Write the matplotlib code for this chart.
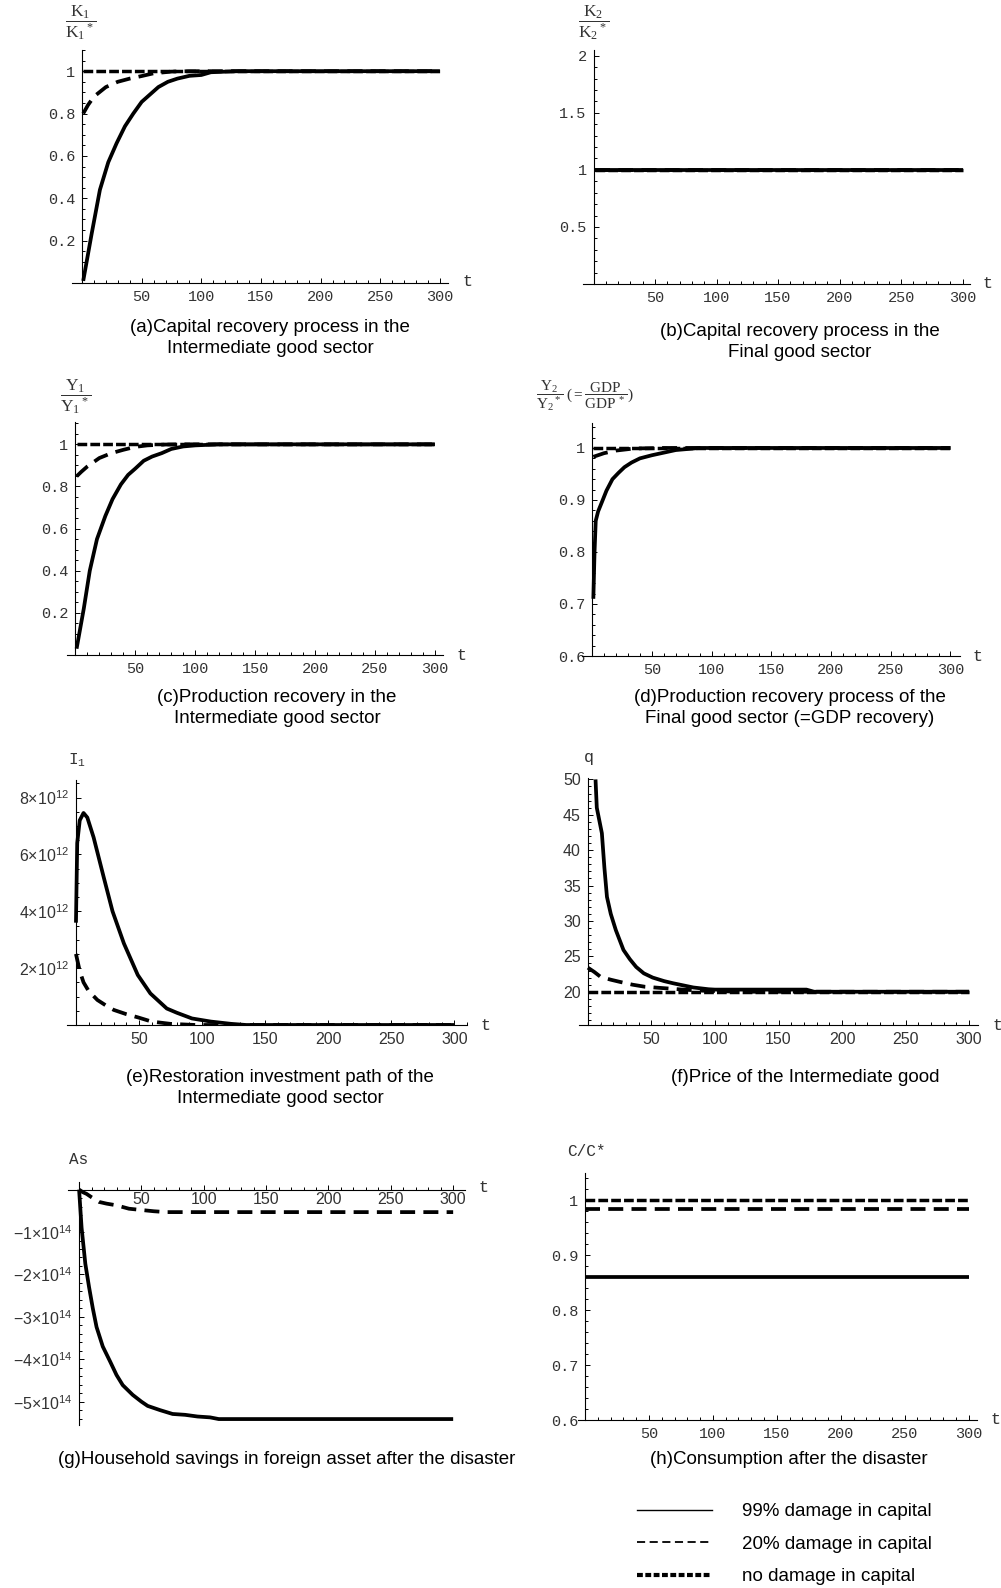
import matplotlib
matplotlib.use('Agg')
import matplotlib.pyplot as plt
from matplotlib.ticker import MultipleLocator
from matplotlib.lines import Line2D

plt.rcParams['mathtext.fontset'] = 'custom'
plt.rcParams['mathtext.rm'] = 'Liberation Serif'
plt.rcParams['mathtext.it'] = 'Liberation Serif:italic'
plt.rcParams['mathtext.sf'] = 'Liberation Sans'

W, H = 1001, 1588

# ---- data (t = periods after the disaster) ----
# (a) K1/K1*
a_t_99 = [1, 8, 15, 22, 29, 36, 43, 50, 57, 64, 72, 80, 90, 100, 108, 130, 300]
a_y_99 = [0.01, 0.23, 0.44, 0.57, 0.66, 0.74, 0.80, 0.855, 0.89, 0.925, 0.95, 0.965, 0.978, 0.982, 0.995, 1.0, 1.0]
a_t_20 = [1, 5, 10, 20, 30, 40, 50, 60, 75, 90, 300]
a_y_20 = [0.80, 0.84, 0.88, 0.925, 0.95, 0.965, 0.977, 0.99, 0.998, 1.0, 1.0]
a_t_0 = [1, 300]
a_y_0 = [1.0, 1.0]

# (b) K2/K2*
b_t = [1, 300]
b_y = [1.0, 1.0]

# (c) Y1/Y1*
c_t_99 = [1, 7, 12, 18, 25, 31, 38, 44, 50, 57, 64, 72, 80, 90, 100, 120, 300]
c_y_99 = [0.03, 0.22, 0.40, 0.55, 0.66, 0.74, 0.81, 0.855, 0.885, 0.922, 0.942, 0.958, 0.978, 0.99, 0.995, 1.0, 1.0]
c_t_20 = [1, 5, 10, 20, 30, 40, 50, 60, 75, 90, 300]
c_y_20 = [0.848, 0.87, 0.895, 0.935, 0.958, 0.974, 0.988, 0.995, 0.999, 1.0, 1.0]
c_t_0 = [1, 300]
c_y_0 = [1.0, 1.0]

# (d) Y2/Y2* (= GDP/GDP*)
d_t_99 = [1, 2, 3, 5, 8, 12, 17, 22, 27, 33, 40, 50, 60, 70, 90, 300]
d_y_99 = [0.71, 0.80, 0.86, 0.878, 0.895, 0.918, 0.94, 0.952, 0.963, 0.972, 0.98, 0.986, 0.991, 0.996, 1.0, 1.0]
d_t_20 = [1, 10, 20, 35, 60, 300]
d_y_20 = [0.983, 0.99, 0.995, 0.999, 1.0, 1.0]
d_t_0 = [1, 300]
d_y_0 = [1.0, 1.0]

# (e) I1, restoration investment
e_t_99 = [0, 1, 3, 6, 9, 14, 22, 29, 38, 49, 59, 72, 80, 92, 107, 123, 135, 300]
e_y_99 = [3.6e12, 6.4e12, 7.2e12, 7.46e12, 7.3e12, 6.6e12, 5.2e12, 4.0e12, 2.87e12, 1.76e12, 1.11e12,
          0.58e12, 0.43e12, 0.23e12, 0.12e12, 0.04e12, 0.0, 0.0]
e_t_20 = [0, 3, 6, 10, 17, 24, 30, 40, 49, 60, 75, 95, 300]
e_y_20 = [2.5e12, 1.9e12, 1.5e12, 1.2e12, 0.88e12, 0.68e12, 0.53e12, 0.38e12, 0.27e12, 0.12e12, 0.04e12, 0.0, 0.0]

# (f) q, price of the intermediate good
f_t_99 = [6, 7, 11, 13, 15, 18, 22, 28, 33, 38, 44, 51, 60, 67, 75, 83, 95, 100, 172, 178, 300]
f_y_99 = [50, 46, 42.4, 37.5, 33.4, 31, 28.7, 25.9, 24.6, 23.5, 22.6, 22.0, 21.5, 21.2, 20.9, 20.6,
          20.35, 20.3, 20.3, 20.0, 20.0]
f_t_20 = [0, 5, 10, 18, 25, 35, 45, 60, 75, 90, 120, 300]
f_y_20 = [23.4, 22.8, 22.1, 21.7, 21.4, 21.0, 20.7, 20.5, 20.3, 20.15, 20.0, 20.0]
f_t_0 = [0, 300]
f_y_0 = [20.0, 20.0]

# (g) As, household foreign assets
g_t_99 = [0, 2, 5, 8, 11, 14, 19, 25, 30, 35, 43, 50, 55, 65, 75, 85, 95, 105, 112, 300]
g_y_99 = [0, -0.9e14, -1.75e14, -2.3e14, -2.8e14, -3.24e14, -3.7e14, -4.06e14, -4.37e14, -4.61e14,
          -4.84e14, -5.0e14, -5.10e14, -5.2e14, -5.29e14, -5.31e14, -5.35e14, -5.37e14, -5.41e14, -5.41e14]
g_t_20 = [0, 3, 6, 10, 16, 22, 30, 40, 50, 60, 70, 300]
g_y_20 = [0, -0.06e14, -0.1e14, -0.18e14, -0.29e14, -0.33e14, -0.37e14, -0.45e14, -0.48e14, -0.51e14,
          -0.53e14, -0.53e14]

# (h) C/C*
h_t = [0, 300]
h_y_99 = [0.86, 0.86]
h_y_20 = [0.985, 0.985]
h_y_0 = [1.0, 1.0]

# tick labels
ticks_a = [0.2, 0.4, 0.6, 0.8, 1.0]
labels_a = ['0.2', '0.4', '0.6', '0.8', '1']
ticks_b = [0.5, 1.0, 1.5, 2.0]
labels_b = ['0.5', '1', '1.5', '2']
ticks_d = [0.6, 0.7, 0.8, 0.9, 1.0]
labels_d = ['0.6', '0.7', '0.8', '0.9', '1']
ticks_e = [2e12, 4e12, 6e12, 8e12]
labels_e = [r'$\mathsf{%d{\times}10^{12}}$' % v for v in (2, 4, 6, 8)]
ticks_f = [20, 25, 30, 35, 40, 45, 50]
labels_f = ['20', '25', '30', '35', '40', '45', '50']
ticks_g = [-5e14, -4e14, -3e14, -2e14, -1e14]
labels_g = [r'$\mathsf{-%d{\times}10^{14}}$' % v for v in (5, 4, 3, 2, 1)]
xticks = [50, 100, 150, 200, 250, 300]
xlabels = ['50', '100', '150', '200', '250', '300']

legend_labels = ['99% damage in capital', '20% damage in capital', 'no damage in capital']

# line styles
HEAVY = dict(color='black', lw=2.7, ls='-', solid_capstyle='butt')
MILD = dict(color='black', lw=2.7, ls=(0, (4.0, 2.2)), dash_capstyle='butt')
NONE = dict(color='black', lw=2.5, ls=(0, (2.8, 0.9)), dash_capstyle='butt')

MONO = 'Liberation Mono'
SANS = 'Liberation Sans'
TICKCOL = '#333333'

fig = plt.figure(figsize=(W / 100, H / 100), dpi=100)


def px(x, y):
    return x / W, 1 - y / H


def panel(x0, x1, y0, y1, xlim, ylim, yticks, ylabels, yminor,
          xfont=MONO, yfont=MONO, xsize=11, ysize=11, xspine=None):
    ax = fig.add_axes([x0 / W, 1 - y1 / H, (x1 - x0) / W, (y1 - y0) / H])
    ax.set_xlim(*xlim)
    ax.set_ylim(*ylim)
    for s in ('top', 'right'):
        ax.spines[s].set_visible(False)
    ax.spines['left'].set_position(('data', 0))
    if xspine is not None:
        ax.spines['bottom'].set_position(('data', xspine))
    for s in ('left', 'bottom'):
        ax.spines[s].set_linewidth(0.8)
    ax.set_xticks(xticks, labels=xlabels)
    ax.set_yticks(yticks, labels=ylabels)
    ax.xaxis.set_minor_locator(MultipleLocator(10))
    ax.yaxis.set_minor_locator(MultipleLocator(yminor))
    ax.tick_params(which='both', direction='in', width=0.7, colors='black',
                   labelcolor=TICKCOL)
    ax.tick_params(which='major', length=3.5)
    ax.tick_params(which='minor', length=2)
    ax.tick_params(axis='x', labelsize=xsize, labelfontfamily=xfont, pad=5)
    ax.tick_params(axis='y', labelsize=ysize, labelfontfamily=yfont, pad=5)
    ax.set_facecolor('none')
    return ax


def axis_text(x, y, s, size=11, family=MONO, ha='center'):
    fig.text(*px(x, y), s, ha=ha, va='center', fontsize=size, family=family, color=TICKCOL)


def caption(x, y, s):
    fig.text(*px(x, y), s, ha='center', va='center', fontsize=13.5, family=SANS,
             linespacing=1.35, color='black')


# (a)
ax = panel(72, 448, 50, 283, (-8.4, 306.8), (0, 1.1), ticks_a, labels_a, 0.05)
ax.plot(a_t_0, a_y_0, **NONE)
ax.plot(a_t_20, a_y_20, **MILD)
ax.plot(a_t_99, a_y_99, **HEAVY)
axis_text(467, 282, 't', 12)
axis_text(81, 23, r'$\dfrac{\mathrm{K}_1}{\mathrm{K}_1{}^*}$', 12.5)
caption(270, 338, '(a)Capital recovery process in the\nIntermediate good sector')

# (b)
ax = panel(583, 970, 50, 284, (-8.6, 306), (0, 2.05), ticks_b, labels_b, 0.1)
ax.plot(b_t, b_y, **NONE)
ax.plot(b_t, b_y, **MILD)
ax.plot(b_t, b_y, **HEAVY)
axis_text(988, 283, 't', 12)
axis_text(594, 23, r'$\dfrac{\mathrm{K}_2}{\mathrm{K}_2{}^*}$', 12.5)
caption(800, 342, '(b)Capital recovery process in the\nFinal good sector')

# (c)
ax = panel(67, 443, 422, 655, (-7, 306.7), (0, 1.106), ticks_a, labels_a, 0.05)
ax.plot(c_t_0, c_y_0, **NONE)
ax.plot(c_t_20, c_y_20, **MILD)
ax.plot(c_t_99, c_y_99, **HEAVY)
axis_text(462, 655, 't', 12)
axis_text(76, 397, r'$\dfrac{\mathrm{Y}_1}{\mathrm{Y}_1{}^*}$', 12.5)
caption(277, 708, '(c)Production recovery in the\nIntermediate good sector')

# (d)
ax = panel(582, 960, 423, 656, (-8.5, 308), (0.6, 1.048), ticks_d, labels_d, 0.02)
ax.plot(d_t_0, d_y_0, **NONE)
ax.plot(d_t_20, d_y_20, **MILD)
ax.plot(d_t_99, d_y_99, **HEAVY)
axis_text(977, 656, 't', 12)
axis_text(536, 396, r'$\dfrac{\mathrm{Y}_2}{\mathrm{Y}_2{}^*}\;(=\dfrac{\mathrm{GDP}}{\mathrm{GDP}^{\,*}})$',
          11, ha='left')
caption(790, 708, '(d)Production recovery process of the\nFinal good sector (=GDP recovery)')

# (e)
ax = panel(67, 467, 780, 1025, (-7.1, 310), (0, 8.62e12), ticks_e, labels_e, 0.5e12,
           xfont=SANS, yfont=SANS, xsize=11.5, ysize=11.5)
ax.plot(e_t_20, e_y_20, **MILD)
ax.plot(e_t_99, e_y_99, **HEAVY)
axis_text(485, 1025, 't', 12)
axis_text(77, 760, r'I$_\mathregular{1}$', 11.5)
caption(280, 1088, '(e)Restoration investment path of the\nIntermediate good sector')

# (f)
ax = panel(579, 978, 778, 1025, (-7, 307), (15.3, 50.2), ticks_f, labels_f, 1,
           xfont=SANS, yfont=SANS, xsize=11.5, ysize=11.5)
ax.plot(f_t_0, f_y_0, **NONE)
ax.plot(f_t_20, f_y_20, **MILD)
ax.plot(f_t_99, f_y_99, **HEAVY)
axis_text(997, 1025, 't', 12)
axis_text(589, 758, 'q', 12)
caption(805, 1077, '(f)Price of the Intermediate good')

# (g)
ax = panel(68, 465, 1182, 1425, (-8.9, 309.5), (-5.55e14, 0.18e14), ticks_g, labels_g, 0.2e14,
           xfont=SANS, yfont=SANS, xsize=11.5, ysize=11.5, xspine=0)
ax.tick_params(axis='x', pad=2)
ax.plot(g_t_20, g_y_20, **MILD)
ax.plot(g_t_99, g_y_99, **HEAVY)
axis_text(483, 1188, 't', 12)
axis_text(79, 1160, 'As', 11.5)
caption(287, 1460, '(g)Household savings in foreign asset after the disaster')

# (h)
ax = panel(578, 977, 1173, 1420, (-5.5, 306.6), (0.6, 1.05), ticks_d, labels_d, 0.02)
ax.plot(h_t, h_y_0, **NONE)
ax.plot(h_t, h_y_20, **MILD)
ax.plot(h_t, h_y_99, **HEAVY)
axis_text(996, 1420, 't', 12)
axis_text(586, 1152, 'C/C*', 11.5)
caption(789, 1460, '(h)Consumption after the disaster')

# legend
handles = [Line2D([], [], color='black', lw=1.0, ls='-'),
           Line2D([], [], color='black', lw=1.3, ls=(0, (4.5, 2.5))),
           Line2D([], [], color='black', lw=3.0, ls=(0, (1.4, 0.6)))]
fig.legend(handles, legend_labels, loc='upper left', bbox_to_anchor=px(637, 1503),
           frameon=False, borderpad=0, borderaxespad=0, handlelength=4.0,
           handletextpad=1.6, labelspacing=0.82, prop={'family': SANS, 'size': 13.5})

fig.savefig('out.png', dpi=100)
